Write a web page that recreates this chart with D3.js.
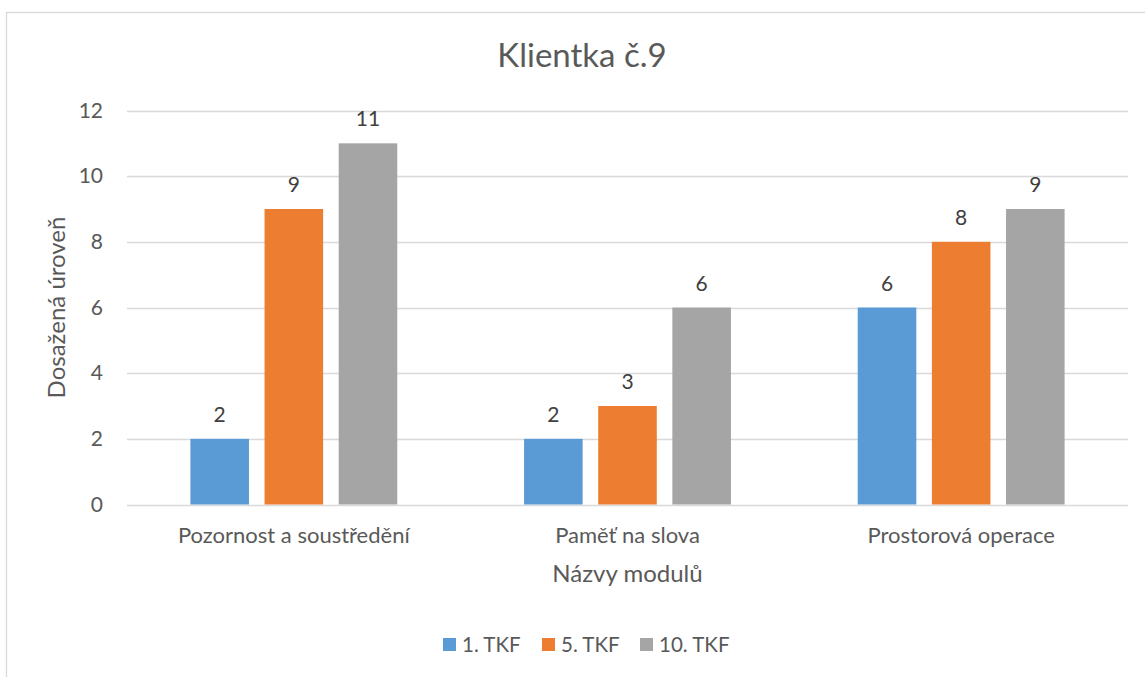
<!DOCTYPE html>
<html><head><meta charset="utf-8">
<script src="https://cdn.jsdelivr.net/npm/d3@7"></script>
<style>body{margin:0;background:#fff}svg{display:block}text{font-family:Lato,"Open Sans",sans-serif}</style>
</head><body><svg id="c" width="1145" height="677"></svg>
<script>
const categories = ["Pozornost a soustředění", "Paměť na slova", "Prostorová operace"];
const seriesNames = ["1. TKF", "5. TKF", "10. TKF"];
const values1 = [2, 2, 6];
const values5 = [9, 3, 8];
const values10 = [11, 6, 9];
const yTicks = [0, 2, 4, 6, 8, 10, 12];
const colors = ["#5B9BD5", "#ED7D31", "#A5A5A5"];
const title = "Klientka č.9";
const xTitle = "Názvy modulů";
const yTitle = "Dosažená úroveň";

const seriesValues = [values1, values5, values10];
const svg = d3.select("#c");
const W = 1145, H = 677;
const plot = {left: 127, right: 1128, top: 110.5, bottom: 504.5};

svg.append("rect").attr("x", 6.5).attr("y", 12.5).attr("width", W + 10).attr("height", H + 10)
  .attr("fill", "#fff").attr("stroke", "#D9D9D9").attr("stroke-width", 1.3);

const y = d3.scaleLinear().domain([0, 12]).range([plot.bottom, plot.top]);
const x0 = d3.scaleBand().domain(categories).range([plot.left, plot.right]).paddingInner(0.38).paddingOuter(0.19);
const x1 = d3.scaleBand().domain(seriesNames).range([0, x0.bandwidth()]).paddingInner(0.21).paddingOuter(0);

// gridlines
svg.append("g").selectAll("line").data(yTicks).join("line")
  .attr("x1", plot.left).attr("x2", plot.right)
  .attr("y1", d => Math.round(y(d)) + 0.5).attr("y2", d => Math.round(y(d)) + 0.5)
  .attr("stroke", "#D9D9D9").attr("stroke-width", 1.3);

// y axis
const ya = svg.append("g").attr("transform", `translate(${plot.left - 24},0)`)
  .call(d3.axisLeft(y).tickValues(yTicks).tickSize(0).tickPadding(0));
ya.select(".domain").remove();
ya.selectAll("text").attr("fill", "#595959").style("font-size", "21px").style("font-family", "Lato");

// x axis labels
const xa = svg.append("g").attr("transform", `translate(0,${plot.bottom})`)
  .call(d3.axisBottom(x0).tickSize(0).tickPadding(0));
xa.select(".domain").remove();
xa.selectAll("text").attr("fill", "#595959").attr("dy", "0").attr("y", 38)
  .style("font-size", "22px").style("font-family", "Lato");

// bars
const groups = svg.append("g").selectAll("g").data(categories).join("g")
  .attr("transform", d => `translate(${x0(d)},0)`);
groups.selectAll("rect").data((c, i) => seriesNames.map((s, j) => ({s, j, v: seriesValues[j][i]})))
  .join("rect")
  .attr("x", d => x1(d.s)).attr("width", x1.bandwidth())
  .attr("y", d => y(d.v)).attr("height", d => y(0) - y(d.v))
  .attr("fill", d => colors[d.j]);
groups.selectAll("text").data((c, i) => seriesNames.map((s, j) => ({s, j, v: seriesValues[j][i]})))
  .join("text")
  .attr("x", d => x1(d.s) + x1.bandwidth() / 2).attr("y", d => y(d.v) - 17)
  .attr("text-anchor", "middle").attr("fill", "#404040").style("font-size", "21px")
  .text(d => d.v);

// title
svg.append("text").attr("x", 582).attr("y", 67).attr("text-anchor", "middle")
  .attr("fill", "#595959").style("font-size", "33px").text(title);

// axis titles
svg.append("text").attr("x", (plot.left + plot.right) / 2).attr("y", 582).attr("text-anchor", "middle")
  .attr("fill", "#595959").style("font-size", "24px").text(xTitle);
svg.append("text").attr("transform", `translate(65,${(plot.top + plot.bottom) / 2}) rotate(-90)`)
  .attr("text-anchor", "middle").attr("fill", "#595959").style("font-size", "24px").text(yTitle);

// legend
const legendX = [443, 542, 640];
const lg = svg.append("g").selectAll("g").data(seriesNames).join("g")
  .attr("transform", (d, i) => `translate(${legendX[i]},638)`);
lg.append("rect").attr("width", 13).attr("height", 13).attr("fill", (d, i) => colors[i]);
lg.append("text").attr("x", 19).attr("y", 13.5).attr("fill", "#595959").style("font-size", "20.5px").text(d => d);
</script></body></html>
